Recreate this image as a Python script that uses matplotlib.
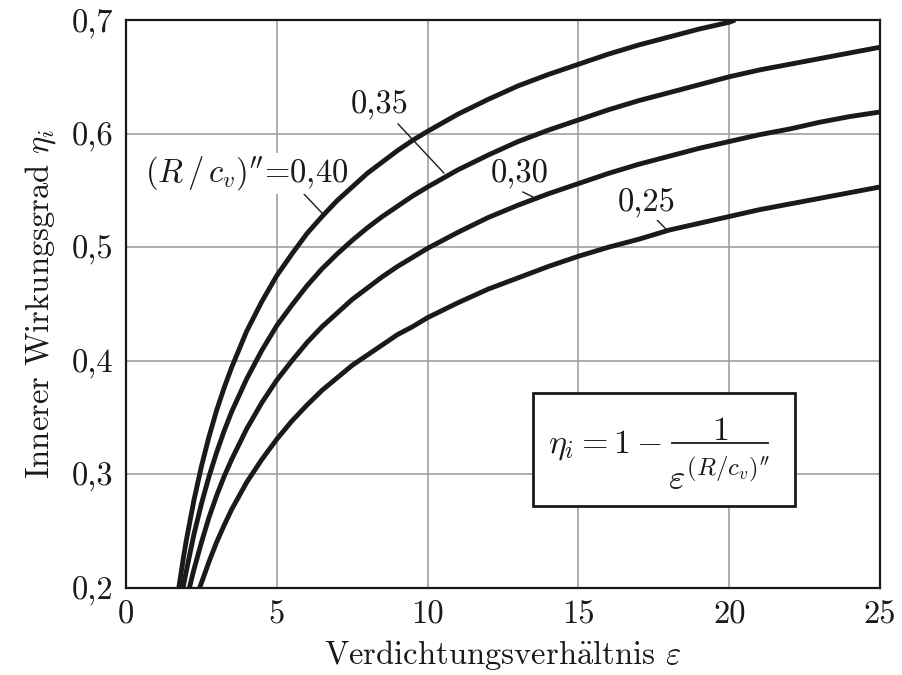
import matplotlib
matplotlib.use("Agg")
import matplotlib.pyplot as plt
from matplotlib.patches import Rectangle

plt.rcParams['font.family'] = ['cmr10', 'DejaVu Serif']
plt.rcParams['mathtext.fontset'] = 'cm'
plt.rcParams['axes.formatter.use_mathtext'] = True

# Data
eps_040 = [1.75, 1.9, 2.0, 2.25, 2.5, 2.75, 3.0, 3.25, 3.5, 4.0, 4.5, 5.0, 5.5, 6.0, 6.5, 7.0, 7.5, 8.0, 8.5, 9.0,
           9.5, 10, 11, 12, 13, 14, 15, 16, 17, 18, 19, 20, 20.2]
eta_040 = [0.200, 0.226, 0.242, 0.277, 0.307, 0.333, 0.356, 0.376, 0.394, 0.426, 0.452, 0.475, 0.494, 0.512, 0.527,
           0.541, 0.553, 0.565, 0.575, 0.585, 0.594, 0.602, 0.617, 0.630, 0.642, 0.652, 0.661, 0.670, 0.678, 0.685,
           0.692, 0.698, 0.700]

eps_035 = [1.89, 2.0, 2.25, 2.5, 2.75, 3.0, 3.25, 3.5, 4.0, 4.5, 5, 5.5, 6, 6.5, 7, 7.5, 8, 8.5, 9, 9.5,
           10, 11, 12, 13, 14, 15, 16, 17, 18, 19, 20, 21, 22, 23, 24, 25]
eta_035 = [0.200, 0.215, 0.247, 0.274, 0.298, 0.319, 0.338, 0.355, 0.384, 0.409, 0.431, 0.449, 0.466, 0.481, 0.494,
           0.506, 0.517, 0.527, 0.536, 0.545, 0.553, 0.568, 0.581, 0.593, 0.603, 0.612, 0.621, 0.629, 0.636, 0.643,
           0.650, 0.656, 0.661, 0.666, 0.671, 0.676]

eps_030 = [2.10, 2.25, 2.5, 2.75, 3.0, 3.25, 3.5, 4, 4.5, 5, 5.5, 6, 6.5, 7, 7.5, 8, 8.5, 9, 9.5, 10,
           11, 12, 13, 14, 15, 16, 17, 18, 19, 20, 21, 22, 23, 24, 25]
eta_030 = [0.200, 0.216, 0.240, 0.262, 0.281, 0.298, 0.313, 0.340, 0.363, 0.383, 0.400, 0.416, 0.430, 0.442, 0.454,
           0.464, 0.474, 0.483, 0.491, 0.499, 0.513, 0.526, 0.537, 0.547, 0.556, 0.565, 0.573, 0.580, 0.587, 0.593,
           0.599, 0.604, 0.610, 0.615, 0.619]

eps_025 = [2.44, 2.75, 3, 3.25, 3.5, 3.75, 4, 4.5, 5, 5.5, 6, 6.5, 7, 7.5, 8, 8.5, 9, 9.5, 10, 11,
           12, 13, 14, 15, 16, 17, 18, 19, 20, 21, 22, 23, 24, 25]
eta_025 = [0.200, 0.223, 0.240, 0.255, 0.269, 0.281, 0.293, 0.313, 0.331, 0.347, 0.361, 0.374, 0.385, 0.396, 0.405,
           0.414, 0.423, 0.430, 0.438, 0.451, 0.463, 0.473, 0.483, 0.492, 0.500, 0.507, 0.515, 0.521, 0.527, 0.533,
           0.538, 0.543, 0.548, 0.553]

x_ticks = [0, 5, 10, 15, 20, 25]
x_labels = ['0', '5', '10', '15', '20', '25']
y_ticks = [0.2, 0.3, 0.4, 0.5, 0.6, 0.7]
y_labels = ['0,2', '0,3', '0,4', '0,5', '0,6', '0,7']

curve_labels = [r'$(R\,/\,c_v)^{\prime\prime}$=0,40', '0,35', '0,30', '0,25']

INK = '#1a1a1a'
FS = 23.5

fig = plt.figure(figsize=(9.02, 6.75), dpi=100)
ax = fig.add_axes([0.1397, 0.1289, 0.8359, 0.8415])

for xs, ys in [(eps_040, eta_040), (eps_035, eta_035), (eps_030, eta_030), (eps_025, eta_025)]:
    ax.plot(xs, ys, color=INK, lw=3.5, solid_capstyle='butt', solid_joinstyle='round', zorder=3)

ax.set_xlim(0, 25)
ax.set_ylim(0.2, 0.7)
ax.set_xticks(x_ticks)
ax.set_xticklabels(x_labels)
ax.set_yticks(y_ticks)
ax.set_yticklabels(y_labels)
ax.tick_params(length=0, labelsize=FS, pad=9, colors=INK)
ax.grid(True, color='#a0a0a0', lw=1.2, zorder=0)
for s in ax.spines.values():
    s.set_linewidth(1.6)
    s.set_color(INK)

ax.set_xlabel('Verdichtungsverh' + r'$\ddot{\mathrm{a}}$' + r'ltnis $\varepsilon$', fontsize=FS, labelpad=6, color=INK)
ax.set_ylabel(r'Innerer Wirkungsgrad $\eta_i$', fontsize=FS, labelpad=10, color=INK)

# leader lines
leaders = [((5.87, 0.5477), (6.50, 0.530)),
           ((9.02, 0.6085), (10.54, 0.5653)),
           ((13.16, 0.5486), (13.49, 0.5442)),
           ((17.61, 0.5239), (17.94, 0.515))]
for (x0, y0), (x1, y1) in leaders:
    ax.plot([x0, x1], [y0, y1], color=INK, lw=1.0, zorder=2)

label_pos = [(4.0, 0.5574), (8.42, 0.618), (13.06, 0.5565), (17.27, 0.531)]
for (x, y), t in zip(label_pos, curve_labels):
    ax.text(x, y, t, ha='center', va='baseline', fontsize=FS, color=INK, zorder=2.5,
            bbox=dict(facecolor='white', edgecolor='none', pad=1.0))

# formula box
ax.add_patch(Rectangle((13.49, 0.2722), 22.18 - 13.49, 0.3717 - 0.2722, facecolor='white',
                       edgecolor=INK, lw=2.0, zorder=5))
ax.text(17.77, 0.3188, r'$\eta_i = 1 -$', ha='right', va='baseline', fontsize=FS + 1, color=INK, zorder=6)
ax.text(19.70, 0.3303, r'$1$', ha='center', va='baseline', fontsize=FS + 1, color=INK, zorder=6)
ax.plot([18.10, 21.29], [0.3276, 0.3276], color=INK, lw=1.3, zorder=6)
ax.text(19.66, 0.2863, r'$\varepsilon^{(R/c_v)^{\prime\prime}}$', ha='center', va='baseline', fontsize=FS + 2,
        color=INK, zorder=6)

fig.savefig('out.png', dpi=100)
